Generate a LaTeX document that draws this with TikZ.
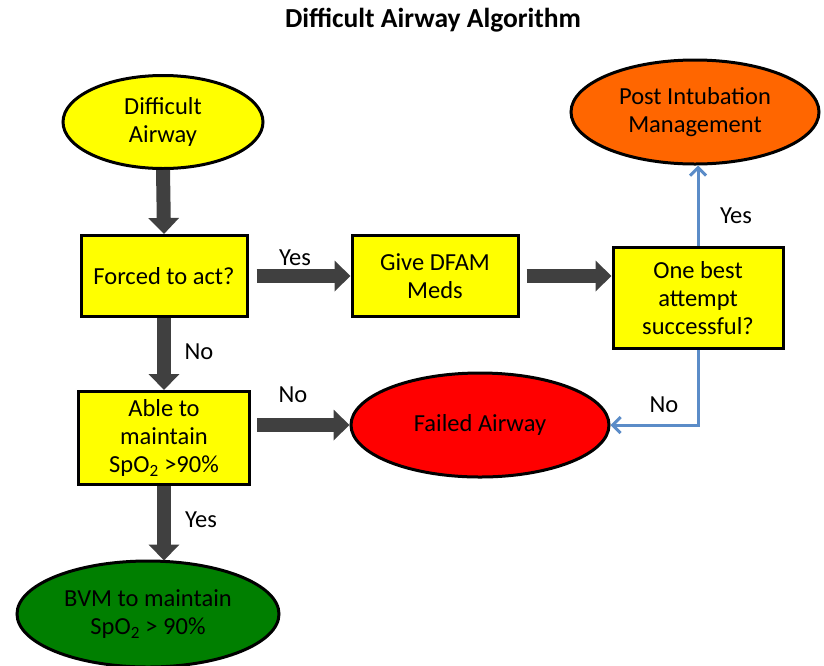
\documentclass[tikz,border=0pt]{standalone}
\usepackage{fontspec}
\setmainfont{Carlito}
\usetikzlibrary{shapes.geometric,arrows.meta}
\definecolor{yel}{HTML}{FFFF00}
\definecolor{org}{HTML}{FF6600}
\definecolor{redf}{HTML}{FF0000}
\definecolor{grn}{HTML}{007F00}
\definecolor{arr}{HTML}{404040}
\definecolor{blu}{HTML}{5B8CC8}
\begin{document}
\begin{tikzpicture}[x=1pt,y=-1pt,
  every node/.style={font=\fontsize{24.5}{28}\selectfont, align=center, text=black},
  box/.style={draw=black, line width=3pt, fill=yel, minimum width=166pt, minimum height=81pt, inner sep=2pt},
  ell/.style={ellipse, draw=black, line width=3pt, inner sep=0pt},
  bigarrow/.style={draw=arr, line width=14pt, -{Triangle[length=16pt,width=30pt]}},
  bluearrow/.style={draw=blu, line width=3pt, -{Straight Barb[length=8pt,width=16pt]}},
  lbl/.style={font=\fontsize{24.5}{28}\selectfont}]
\useasboundingbox (0,0) rectangle (824,665);
\node[font=\fontsize{27.5}{32}\selectfont\bfseries] (title) at (433,20) {Difficult Airway Algorithm};
\node[ell, fill=yel, minimum width=200pt, minimum height=93pt] (start) at (163,122) {Difficult\\Airway};
\node[box] (forced) at (164,276) {Forced to act?};
\node[box] (dfam) at (435,276) {Give DFAM\\Meds};
\node[box, minimum width=170pt, minimum height=101pt] (attempt) at (698,298) {One best\\attempt\\successful?};
\node[ell, fill=org, minimum width=248pt, minimum height=104pt] (post) at (695,112) {Post Intubation\\Management};
\node[box, minimum width=171pt, minimum height=93pt] (able) at (164,438) {Able to\\maintain\\SpO\textsubscript{2} >90\%};
\node[ell, fill=redf, minimum width=258pt, minimum height=104pt] (failed) at (480,425) {Failed Airway};
\node[ell, fill=grn, minimum width=262pt, minimum height=106pt] (bvm) at (148,614) {BVM to maintain\\SpO\textsubscript{2} > 90\%};
\draw[bigarrow] (start.south) -- (forced.north);
\draw[bigarrow] ([xshift=8pt]forced.east) -- (dfam.west);
\draw[bigarrow] ([xshift=7pt]dfam.east) -- (attempt.west |- dfam.east);
\draw[bigarrow] (forced.south) -- (able.north);
\draw[bigarrow] ([xshift=6pt]able.east |- failed.west) -- (failed.west);
\draw[bigarrow] (able.south) -- ([yshift=-1pt]able.south |- bvm.north);
\draw[bluearrow] (attempt.north) -- (attempt.north |- post.south);
\draw[bluearrow] (attempt.south) |- (failed.east);
\node[lbl] (l1) at (295,258) {Yes};
\node[lbl] (l2) at (199,352) {No};
\node[lbl] (l3) at (293,395) {No};
\node[lbl] (l4) at (201,520) {Yes};
\node[lbl] (l5) at (736,216) {Yes};
\node[lbl] (l6) at (664,405) {No};
\end{tikzpicture}
\end{document}
